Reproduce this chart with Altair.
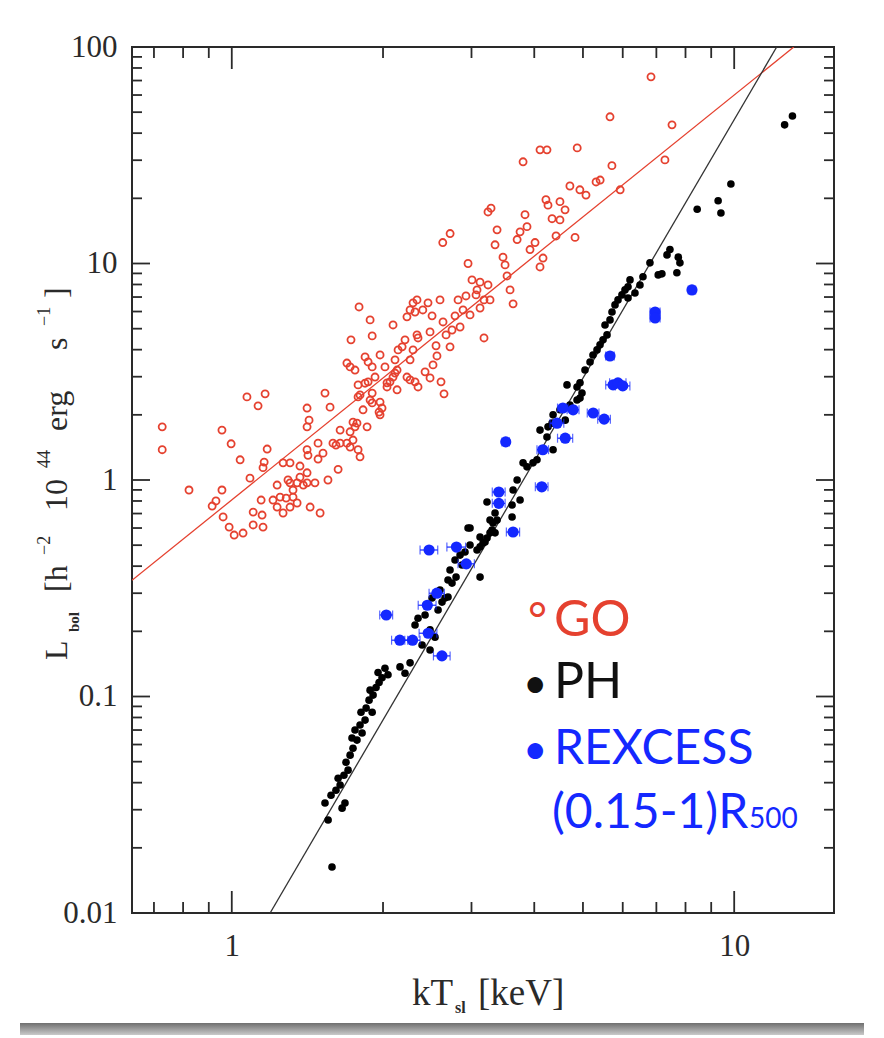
import altair as alt
import pandas as pd

# ---------------- data ----------------
# GO sample (open red circles): kT [keV], Lbol
go_T = [0.727, 0.727, 0.822, 0.956, 0.997, 1.039, 0.956, 0.914, 0.930, 0.961, 0.988, 1.011, 1.053,
        1.072, 1.128, 1.165, 1.087, 1.154, 1.160, 1.176, 1.103, 1.149, 1.103, 1.154, 1.144, 1.231,
        1.265, 1.306, 1.367, 1.412, 1.418, 1.412, 1.425, 1.412, 1.485, 1.485, 1.533, 1.569, 1.519,
        1.590, 1.612, 1.643, 1.643, 1.628, 1.554, 1.464, 1.412, 1.388, 1.349, 1.306, 1.294, 1.248,
        1.283, 1.324, 1.208, 1.231, 1.265, 1.306, 1.349, 1.432, 1.499, 1.367, 1.412, 1.324, 1.695,
        1.743, 1.720, 1.759, 1.743, 1.775, 1.784, 1.800, 1.720, 1.859, 1.825, 1.800, 1.784, 1.784,
        1.842, 1.868, 1.885, 1.903, 1.903, 1.928, 1.973, 1.991, 1.973, 1.964, 1.842, 1.868, 1.903,
        1.973, 2.018, 1.695, 1.720, 1.759, 1.727, 1.792, 1.885, 1.903, 2.094, 2.037, 2.065, 2.094,
        2.113, 2.133, 2.037, 2.133, 2.113, 2.143, 2.183, 2.232, 2.212, 2.264, 2.295, 2.232, 2.264,
        2.295, 2.337, 2.316, 2.337, 2.348, 2.264, 2.316, 2.348,
        6.83, 5.66, 7.52, 4.87, 4.107, 4.24, 3.80, 7.28, 5.71, 5.31, 5.41, 5.07, 4.71, 4.93, 4.50,
        4.22, 5.93, 2.63, 2.72, 2.953, 3.007, 3.077, 3.12, 3.177, 3.236, 3.236, 3.281, 3.342,
        3.373, 3.466, 3.499, 3.531, 3.580, 3.630, 3.698, 3.748, 3.834, 3.869, 3.923, 4.014, 4.107,
        4.164, 4.260, 4.340, 4.42, 4.50, 4.606, 4.822, 2.40, 2.458, 2.481, 2.504, 2.55, 2.597,
        2.633, 2.67, 2.719, 2.744, 2.782, 2.821, 2.847, 2.886, 2.925, 2.98, 3.063, 3.12, 3.177,
        3.266, 2.425, 2.481, 2.515, 2.561, 2.609, 2.645]
go_L = [1.76, 1.38, 0.899, 1.70, 1.47, 1.24, 0.899, 0.758, 0.80, 0.675, 0.606, 0.557, 0.569,
        2.42, 2.20, 2.50, 1.02, 1.14, 1.21, 1.39, 0.711, 0.689, 0.620, 0.606, 0.808, 0.948,
        1.20, 1.20, 1.16, 1.38, 1.30, 2.15, 1.89, 1.76, 1.48, 1.25, 2.52, 2.17, 1.33,
        1.48, 1.45, 1.48, 1.70, 1.12, 1.00, 0.97, 0.97, 0.948, 0.97, 0.97, 1.00, 0.834,
        0.825, 0.834, 0.808, 0.750, 0.704, 0.750, 0.783, 0.750, 0.704, 1.03, 1.08, 0.899, 1.48,
        1.53, 1.67, 1.76, 1.85, 1.83, 1.38, 1.28, 1.42, 1.76, 2.11, 2.47, 2.42, 2.75,
        2.80, 2.84, 2.34, 2.27, 2.52, 2.99, 2.29, 2.15, 2.00, 2.06, 3.70, 3.51, 3.33,
        3.78, 3.33, 3.47, 3.33, 3.22, 4.44, 6.30, 5.49, 4.63, 5.20, 2.81, 2.84, 2.99,
        3.12, 3.22, 2.69, 2.61, 3.59, 3.99, 4.12, 2.99, 4.44, 3.59, 3.99, 5.67, 6.10,
        6.58, 6.79, 5.97, 4.68, 4.53, 2.90, 2.84, 2.69,
        72.8, 47.6, 43.7, 34.2, 33.5, 33.5, 29.5, 30.1, 28.3, 23.8, 24.3, 20.7, 22.8, 21.9, 19.3,
        19.7, 21.9, 12.5, 13.75, 10.0, 8.40, 7.55, 8.2, 6.79, 7.96, 17.3, 18.0, 12.2,
        14.3, 10.7, 9.85, 8.76, 7.55, 6.51, 12.9, 14.0, 16.8, 14.8, 11.6, 12.5, 9.64,
        10.6, 18.6, 16.1, 13.4, 15.9, 17.7, 13.2, 6.10, 6.58, 4.83, 5.73, 4.17, 6.79,
        5.37, 4.68, 4.12, 4.93, 5.73, 6.79, 5.09, 6.10, 7.08, 5.79, 7.16, 6.23, 4.53,
        6.79, 3.16, 2.96, 3.40, 3.74, 2.84, 2.50]

# PH sample (filled black dots)
ph_T = [1.533, 1.555, 1.583, 1.658, 1.680, 1.576, 1.612, 1.643, 1.628, 1.672, 1.704, 1.688, 1.720,
        1.743, 1.735, 1.775, 1.759, 1.800, 1.817, 1.842, 1.808, 1.851, 1.876, 1.903, 1.911, 1.937,
        1.885, 1.964, 1.991, 1.955, 2.018, 2.046, 2.162, 2.264, 2.212, 2.392, 2.481, 2.481, 2.538,
        2.621, 2.574, 2.657, 2.694, 2.719, 2.694, 2.744, 2.795, 3.120, 2.953, 2.980, 3.120, 3.192,
        3.077, 3.221, 3.266, 3.342, 2.980, 3.373, 3.311, 3.296, 3.266, 3.221, 3.163, 3.120, 3.342,
        3.613, 3.748, 3.613, 3.630, 3.698, 3.800, 3.869, 3.977, 4.050, 4.107, 4.240, 4.360, 4.360,
        4.340, 4.260, 4.648, 4.866, 4.933, 4.933, 4.978, 4.866, 2.316, 2.348, 2.425, 2.459, 2.504,
        2.597, 2.782, 2.847, 2.873, 2.912, 5.047, 5.165, 5.235, 5.333, 5.407, 5.482, 5.583, 5.532,
        5.660, 5.712, 5.791, 5.871, 5.978, 6.062, 6.147, 6.203, 6.346, 6.493, 6.583, 6.797, 7.060,
        7.180, 7.449, 7.350, 7.740, 7.798, 7.690, 6.147, 8.44, 9.29, 9.41, 9.85, 12.6, 13.06,
        4.50, 4.61, 4.71]
ph_L = [0.0322, 0.0269, 0.0163, 0.0305, 0.0322, 0.0350, 0.0369, 0.0390, 0.0419, 0.0433, 0.0457,
        0.0497, 0.0536, 0.0577, 0.0643, 0.0629, 0.0700, 0.0738, 0.0678, 0.0778, 0.0846, 0.0884,
        0.0962, 0.0846, 0.1015, 0.110, 0.107, 0.116, 0.122, 0.129, 0.135, 0.126, 0.137, 0.143,
        0.128, 0.173, 0.164, 0.203, 0.188, 0.273, 0.251, 0.285, 0.288, 0.384, 0.345, 0.334, 0.356,
        0.356, 0.600, 0.501, 0.491, 0.517, 0.475, 0.791, 0.653, 0.704, 0.600, 0.653, 0.633, 0.587,
        0.570, 0.540, 0.512, 0.545, 0.570, 0.766, 0.808, 0.675, 0.899, 1.00, 1.20, 1.15, 1.20, 1.24,
        1.70, 1.58, 1.38, 2.00, 1.83, 1.76, 2.75, 2.69, 2.81, 2.39, 2.52, 2.34, 0.214, 0.230, 0.238,
        0.264, 0.285, 0.310, 0.427, 0.450, 0.405, 0.465, 3.22, 3.51, 3.78, 3.99, 4.21, 4.44, 4.68,
        5.20, 5.49, 5.97, 6.44, 6.79, 7.16, 7.55, 7.80, 8.40, 7.31, 7.96, 8.68, 10.07, 8.86, 8.96,
        11.6, 10.96, 10.7, 10.07, 9.06, 6.93, 17.8, 19.5, 17.1, 23.3, 43.7, 48.0,
        2.11, 1.89, 2.22]

# REXCESS (filled blue dots with kT error bars)
rx_T = [3.51, 4.16, 4.44, 4.56, 4.78, 4.61, 5.24, 5.51, 5.74, 5.87, 6.00, 5.66, 6.96, 6.96,
        8.24, 4.14, 3.40, 3.40, 3.63, 2.47, 2.80, 2.93, 2.56, 2.45, 2.03, 2.16, 2.29, 2.46, 2.62]
rx_L = [1.50, 1.38, 1.83, 2.15, 2.11, 1.56, 2.04, 1.91, 2.75, 2.81, 2.72, 3.74, 5.97, 5.60,
        7.55, 0.93, 0.88, 0.78, 0.575, 0.475, 0.49, 0.41, 0.30, 0.264, 0.238, 0.182, 0.182,
        0.196, 0.154]
rx_Tlo = [3.45, 4.05, 4.30, 4.45, 4.65, 4.45, 5.10, 5.35, 5.55, 5.65, 5.80, 5.55, 6.80, 6.80,
          8.10, 4.02, 3.30, 3.30, 3.52, 2.37, 2.68, 2.82, 2.47, 2.35, 1.97, 2.08, 2.21, 2.36, 2.52]
rx_Thi = [3.57, 4.27, 4.58, 4.67, 4.91, 4.77, 5.38, 5.67, 5.93, 6.09, 6.20, 5.77, 7.12, 7.12,
          8.38, 4.26, 3.50, 3.50, 3.74, 2.57, 2.92, 3.04, 2.65, 2.55, 2.09, 2.24, 2.37, 2.56, 2.72]

# best-fit relations (end points)
go_fit_T = [0.633, 13.14]
go_fit_L = [0.344, 100.0]
ph_fit_T = [1.192, 12.15]
ph_fit_L = [0.01, 100.0]

# axis ticks
x_major = [1, 10]
x_minor = [0.7, 0.8, 0.9, 2, 3, 4, 5, 6, 7, 8, 9]
y_major = [0.01, 0.1, 1, 10, 100]
y_minor = [0.02, 0.03, 0.04, 0.05, 0.06, 0.07, 0.08, 0.09,
           0.2, 0.3, 0.4, 0.5, 0.6, 0.7, 0.8, 0.9,
           2, 3, 4, 5, 6, 7, 8, 9,
           20, 30, 40, 50, 60, 70, 80, 90]

# ---------------- styling ----------------
W, H = 702, 866
RED = "#e5412f"
BLUE = "#1428ff"
INK = "#2a2a2a"
SERIF = "Liberation Serif"
SANS = "Lato"

xs = alt.Scale(type="log", domain=[0.633, 15.8], nice=False)
ys = alt.Scale(type="log", domain=[0.01, 100], nice=False)

go_df = pd.DataFrame({"T": go_T, "L": go_L})
ph_df = pd.DataFrame({"T": ph_T, "L": ph_L})
rx_df = pd.DataFrame({"T": rx_T, "L": rx_L, "lo": rx_Tlo, "hi": rx_Thi})

xaxis = alt.Axis(values=x_major, format="~g", ticks=False, domain=False, grid=False,
                 labelFont=SERIF, labelFontSize=31, labelColor=INK, labelPadding=18,
                 labelFlush=False, labelOverlap=False, title=None)
yaxis = alt.Axis(values=y_major, format="~g", ticks=False, domain=False, grid=False,
                 labelFont=SERIF, labelFontSize=31, labelColor=INK, labelPadding=15,
                 labelFlush=False, labelOverlap=False, title=None)

go_pts = alt.Chart(go_df).mark_point(shape="circle", filled=False, size=50, color=RED,
                                     strokeWidth=1.8, opacity=1).encode(
    x=alt.X("T:Q", scale=xs, axis=xaxis),
    y=alt.Y("L:Q", scale=ys, axis=yaxis),
)

go_line = alt.Chart(pd.DataFrame({"T": go_fit_T, "L": go_fit_L})).mark_line(
    color=RED, strokeWidth=1.3, clip=True).encode(
    x=alt.X("T:Q", scale=xs), y=alt.Y("L:Q", scale=ys))

ph_line = alt.Chart(pd.DataFrame({"T": ph_fit_T, "L": ph_fit_L})).mark_line(
    color="#333333", strokeWidth=1.3, clip=True).encode(
    x=alt.X("T:Q", scale=xs), y=alt.Y("L:Q", scale=ys))

ph_pts = alt.Chart(ph_df).mark_circle(size=58, color="black", opacity=1).encode(
    x=alt.X("T:Q", scale=xs), y=alt.Y("L:Q", scale=ys))

rx_err = alt.Chart(rx_df).mark_rule(color=BLUE, strokeWidth=1.2).encode(
    x=alt.X("lo:Q", scale=xs), x2="hi:Q", y=alt.Y("L:Q", scale=ys))
rx_cap_lo = alt.Chart(rx_df).mark_tick(color=BLUE, orient="vertical", size=9, thickness=1.2).encode(
    x=alt.X("lo:Q", scale=xs), y=alt.Y("L:Q", scale=ys))
rx_cap_hi = alt.Chart(rx_df).mark_tick(color=BLUE, orient="vertical", size=9, thickness=1.2).encode(
    x=alt.X("hi:Q", scale=xs), y=alt.Y("L:Q", scale=ys))
rx_pts = alt.Chart(rx_df).mark_circle(size=125, color=BLUE, opacity=1).encode(
    x=alt.X("T:Q", scale=xs), y=alt.Y("L:Q", scale=ys))

# inward ticks on all four sides
def xticks(vals, length):
    d = pd.DataFrame({"v": vals})
    bottom = alt.Chart(d).mark_rule(color=INK, strokeWidth=1.8).encode(
        x=alt.X("v:Q", scale=xs), y=alt.value(H), y2=alt.value(H - length))
    top = alt.Chart(d).mark_rule(color=INK, strokeWidth=1.8).encode(
        x=alt.X("v:Q", scale=xs), y=alt.value(0), y2=alt.value(length))
    return [bottom, top]

def yticks(vals, length):
    d = pd.DataFrame({"v": vals})
    left = alt.Chart(d).mark_rule(color=INK, strokeWidth=1.8).encode(
        y=alt.Y("v:Q", scale=ys), x=alt.value(0), x2=alt.value(length))
    right = alt.Chart(d).mark_rule(color=INK, strokeWidth=1.8).encode(
        y=alt.Y("v:Q", scale=ys), x=alt.value(W), x2=alt.value(W - length))
    return [left, right]

tick_layers = xticks(x_major, 22) + xticks(x_minor, 11) + yticks(y_major, 18) + yticks(y_minor, 10)

one = pd.DataFrame({"a": [0]})

def txt(s, x, y, size, color=INK, font=SERIF, angle=0, weight="normal", align="left",
        baseline="alphabetic"):
    return alt.Chart(one).mark_text(text=s, font=font, fontSize=size, color=color, angle=angle,
                                    fontWeight=weight, align=align, baseline=baseline).encode(
        x=alt.value(x), y=alt.value(y))

# axis titles (built from pieces to get sub/superscripts)
titles = [
    txt("kT", 280, 958, 37),
    txt("sl", 323, 966, 16, weight="bold"),
    txt("[keV]", 346, 958, 37),
    txt("L", -65, 613, 32, angle=270),
    txt("bol", -53, 585, 15, angle=270, weight="bold"),
    txt("[h", -65, 545, 32, angle=270),
    txt("\u22122", -82, 508, 18, angle=270),
    txt("10", -65, 464, 32, angle=270),
    txt("44", -82, 421, 18, angle=270),
    txt("erg", -65, 384, 32, angle=270),
    txt("s", -65, 303, 32, angle=270),
    txt("\u22121", -82, 279, 18, angle=270),
    txt("]", -65, 251, 32, angle=270),
]

legend = [
    txt("\u00b0", 396, 589, 46, color=RED, font=SANS),
    txt("GO", 422, 589, 50, color=RED, font=SANS),
    txt("\u2022", 391, 651, 42, color="#111111", font=SANS),
    txt("PH", 422, 651, 50, color="#111111", font=SANS),
    txt("\u2022", 391, 717, 42, color=BLUE, font=SANS),
    txt("REXCESS", 422, 717, 48, color=BLUE, font=SANS),
    txt("(0.15-1)R", 420, 781, 48, color=BLUE, font=SANS),
    txt("500", 617, 781, 28, color=BLUE, font=SANS),
]

# slide drop shadow under the white panel (decoration)
shadow = alt.Chart(one).mark_rect(
    color=alt.LinearGradient(
        gradient="linear", x1=0, y1=0, x2=0, y2=1,
        stops=[alt.GradientStop(color="#6f6f6f", offset=0),
               alt.GradientStop(color="#c9c9c9", offset=1)])
).encode(x=alt.value(-112), x2=alt.value(748), y=alt.value(976), y2=alt.value(988))

chart = alt.layer(
    shadow, go_pts, go_line, ph_line, ph_pts, rx_err, rx_cap_lo, rx_cap_hi, rx_pts,
    *tick_layers, *titles, *legend
).properties(
    width=W, height=H,
    autosize=alt.AutoSizeParams(type="none"),
    padding={"left": 124, "top": 39, "right": 30, "bottom": 122},
    background="white",
).configure_view(stroke=INK, strokeWidth=2)

chart.save("out.html", embed_options={"renderer": "svg", "actions": False})
